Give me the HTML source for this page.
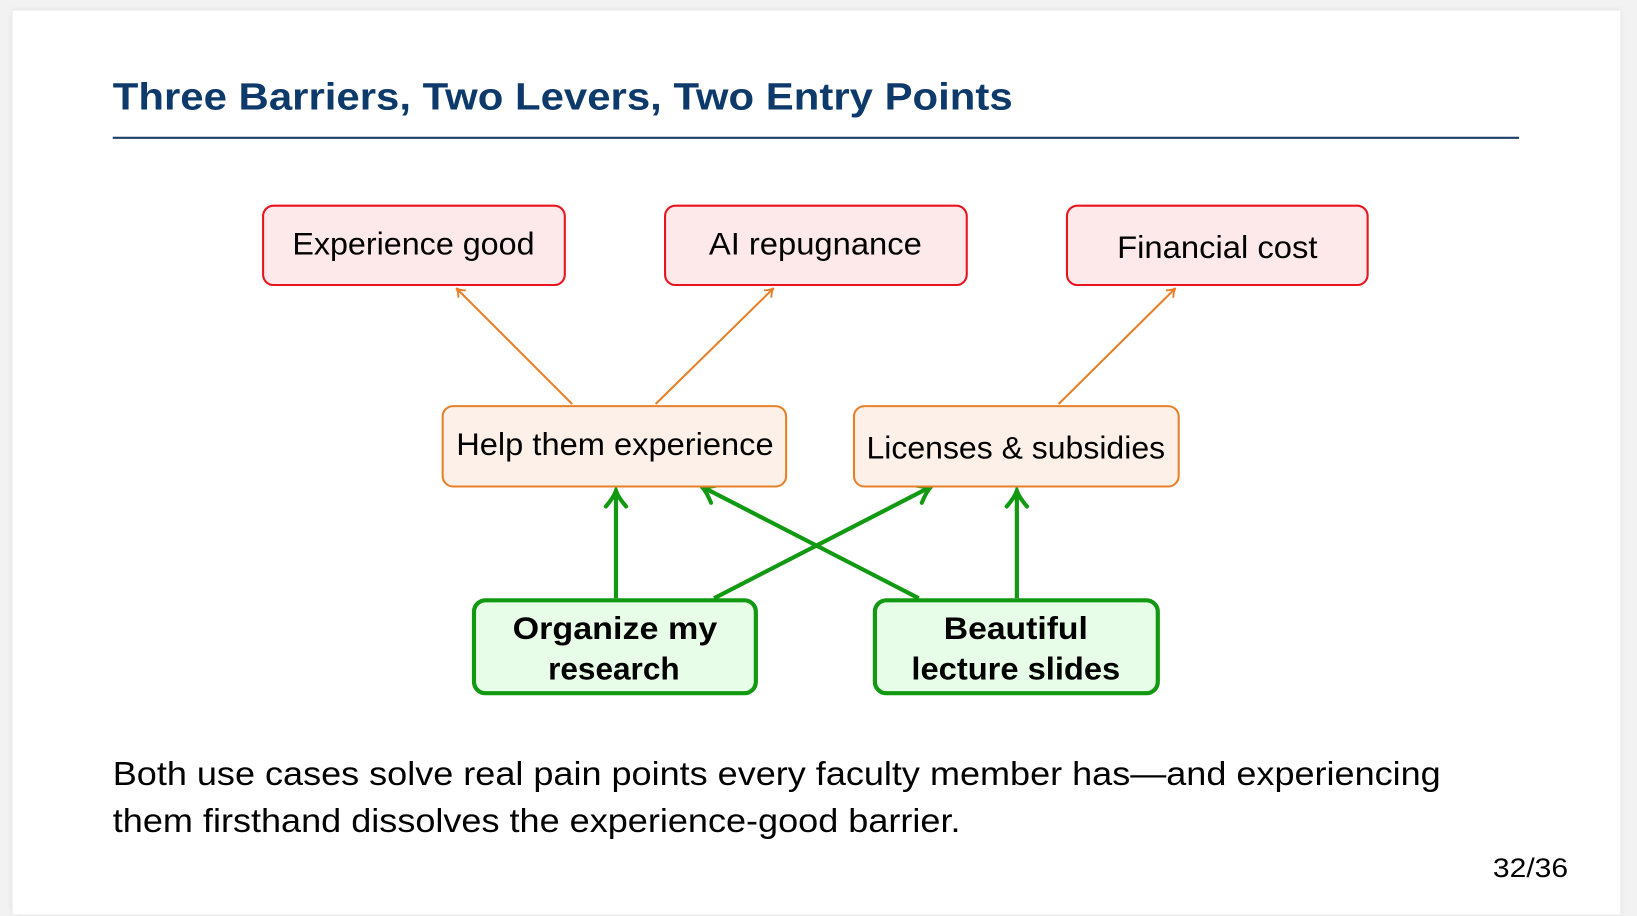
<!DOCTYPE html>
<html><head><meta charset="utf-8"><style>
html,body{margin:0;padding:0;background:#f2f2f2;}
svg{display:block;}
text{font-family:"Liberation Sans",sans-serif;}
</style></head><body>
<svg width="1637" height="916" viewBox="0 0 1568 877.4" xmlns="http://www.w3.org/2000/svg">
<defs>
<marker id="ao" viewBox="0 0 12 12" refX="10" refY="6" markerWidth="12" markerHeight="12" markerUnits="userSpaceOnUse" orient="auto">
<path d="M2,1 Q6,5 10,6 Q6,7 2,11" fill="none" stroke="#e8802a" stroke-width="1.8"/>
</marker>
<marker id="ag" viewBox="0 0 12 12" refX="10" refY="6" markerWidth="26" markerHeight="26" markerUnits="userSpaceOnUse" orient="auto">
<path d="M3,1.5 Q7,5 10,6 Q7,7 3,10.5" fill="none" stroke="#119911" stroke-width="1.8" stroke-linecap="round"/>
</marker>
<filter id="sh" x="-5%" y="-5%" width="110%" height="110%"><feGaussianBlur stdDeviation="3"/></filter>
</defs>
<rect x="0" y="0" width="1568" height="878" fill="#f2f2f2"/>
<rect x="12" y="10" width="1540" height="866" fill="#000" opacity="0.08" filter="url(#sh)"/>
<rect x="12" y="10" width="1540" height="866" fill="#fff"/>
<text x="108" y="105" font-size="36" font-weight="bold" fill="#0d3a6a" textLength="862" lengthAdjust="spacingAndGlyphs">Three Barriers, Two Levers, Two Entry Points</text>
<line x1="108" y1="132" x2="1455" y2="132" stroke="#1f3f6a" stroke-width="2"/>

<g stroke="#e8802a" stroke-width="2" fill="none">
<line x1="548" y1="387" x2="437" y2="276" marker-end="url(#ao)"/>
<line x1="628" y1="387" x2="741" y2="276" marker-end="url(#ao)"/>
<line x1="1014" y1="387" x2="1126" y2="276" marker-end="url(#ao)"/>
</g>
<g stroke="#119911" stroke-width="4" fill="none">
<line x1="590" y1="573" x2="590" y2="470" marker-end="url(#ag)"/>
<line x1="880" y1="573" x2="672" y2="466" marker-end="url(#ag)"/>
<line x1="684" y1="573" x2="892" y2="466" marker-end="url(#ag)"/>
<line x1="974" y1="573" x2="974" y2="470" marker-end="url(#ag)"/>
</g>

<g fill="#fde8ea" stroke="#e8141e" stroke-width="2">
<rect x="252" y="197" width="289" height="76" rx="10"/>
<rect x="637" y="197" width="289" height="76" rx="10"/>
<rect x="1022" y="197" width="288" height="76" rx="10"/>
</g>
<g font-size="30" fill="#000" text-anchor="middle">
<text x="396" y="244" textLength="232" lengthAdjust="spacingAndGlyphs">Experience good</text>
<text x="781" y="244" textLength="204" lengthAdjust="spacingAndGlyphs">AI repugnance</text>
<text x="1166" y="247" textLength="192" lengthAdjust="spacingAndGlyphs">Financial cost</text>
</g>

<g fill="#fcf0e8" stroke="#e8802a" stroke-width="2">
<rect x="424" y="389" width="329" height="77" rx="10"/>
<rect x="818" y="389" width="311" height="77" rx="10"/>
</g>
<g font-size="30" fill="#000" text-anchor="middle">
<text x="589" y="436" textLength="304" lengthAdjust="spacingAndGlyphs">Help them experience</text>
<text x="973" y="439" textLength="286" lengthAdjust="spacingAndGlyphs">Licenses &amp; subsidies</text>
</g>

<g fill="#e8fde8" stroke="#119911" stroke-width="4">
<rect x="454" y="575" width="270" height="89" rx="11"/>
<rect x="838" y="575" width="271" height="89" rx="11"/>
</g>
<g font-size="30" font-weight="bold" fill="#000" text-anchor="middle">
<text x="589" y="612" textLength="196" lengthAdjust="spacingAndGlyphs">Organize my</text>
<text x="588" y="651" textLength="126" lengthAdjust="spacingAndGlyphs">research</text>
<text x="973" y="612" textLength="138" lengthAdjust="spacingAndGlyphs">Beautiful</text>
<text x="973" y="651" textLength="200" lengthAdjust="spacingAndGlyphs">lecture slides</text>
</g>

<text x="108" y="752" font-size="32" fill="#000" textLength="1272" lengthAdjust="spacingAndGlyphs">Both use cases solve real pain points every faculty member has—and experiencing</text>
<text x="108" y="797" font-size="32" fill="#000" textLength="812" lengthAdjust="spacingAndGlyphs">them firsthand dissolves the experience-good barrier.</text>
<text x="1502" y="840" font-size="26" fill="#000" text-anchor="end" textLength="72" lengthAdjust="spacingAndGlyphs">32/36</text>
</svg>
</body></html>
